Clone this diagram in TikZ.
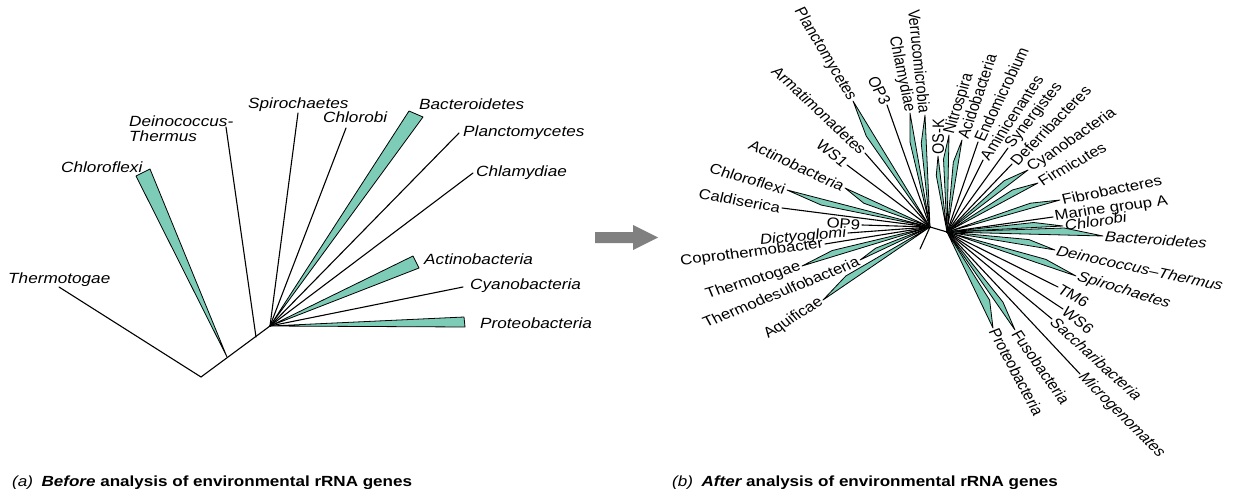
\documentclass[tikz,border=0pt]{standalone}
\usepackage{fontspec}
\setmainfont{Liberation Sans}
\usetikzlibrary{calc}
\definecolor{tealw}{RGB}{125,204,184}
\definecolor{arrowgray}{RGB}{128,128,128}
% plain branch: hub, name, tip, angle (as seen), anchor, text
\newcommand\br[6]{%
  \coordinate (t#2) at (#3);
  \draw[branch] (#1) -- (t#2);
  \node[lbl,xscale=1.16,rotate={atan(1.16*tan(#4))},anchor=#5] (#2) at (t#2) {#6};}
% wedge branch: hub, name, tip, angle (as seen), anchor, text, width
\newcommand\bw[7]{%
  \coordinate (t#2) at (#3);
  \path (#1) -- (t#2) coordinate[pos=0.75] (m#2);
  \filldraw[wedge] (#1) -- (t#2) -- ($(m#2)!#7pt!90:(t#2)$) -- cycle;
  \node[lbl,xscale=1.16,rotate={atan(1.16*tan(#4))},anchor=#5] (#2) at (t#2) {#6};}
\begin{document}
\begin{tikzpicture}[x=1pt,y=-1pt,
  branch/.style={line width=1.1pt,line cap=round},
  wedge/.style={fill=tealw,draw=black,line width=0.8pt,line join=round},
  lbl/.style={font=\fontsize{14.4}{17}\selectfont,inner sep=1.5pt},
  llbl/.style={font=\fontsize{14.8}{17}\selectfont\itshape,inner sep=0pt,anchor=base west,xscale=1.16},
  capt/.style={font=\fontsize{14.7}{17}\selectfont,inner sep=0pt,anchor=base west,xscale=1.16}]
\useasboundingbox (0,0) rectangle (1241,489);

% ---------------- left tree ----------------
\coordinate (R) at (201,377);
\coordinate (A) at (227,357);
\coordinate (B) at (256,337);
\coordinate (C) at (270,326);
\coordinate (aThe) at (59,287);
\coordinate (aChf1) at (136,176);
\coordinate (aChf2) at (150,169);
\coordinate (aDei) at (226,127);
\coordinate (aSpi) at (298,113);
\coordinate (aChb) at (346,128);
\coordinate (aBac1) at (409,111);
\coordinate (aBac2) at (423,117);
\coordinate (aPla) at (459,133);
\coordinate (aChl) at (473,173);
\coordinate (aAct1) at (413,256);
\coordinate (aAct2) at (419,268);
\coordinate (aCya) at (463,287);
\coordinate (aPro1) at (464,317);
\coordinate (aPro2) at (465,327);

\filldraw[wedge] (A) -- (aChf1) -- (aChf2) -- cycle;
\filldraw[wedge] (C) -- (aBac1) -- (aBac2) -- cycle;
\filldraw[wedge] (C) -- (aAct1) -- (aAct2) -- cycle;
\filldraw[wedge] (C) -- (aPro1) -- (aPro2) -- cycle;
\draw[branch] (aThe) -- (R) -- (C);
\draw[branch] (B) -- (aDei);
\draw[branch] (C) -- (aSpi);
\draw[branch] (C) -- (aChb);
\draw[branch] (C) -- (aPla);
\draw[branch] (C) -- (aChl);
\draw[branch] (C) -- (aCya);

\node[llbl] (nThe) at (8,283) {Thermotogae};
\node[llbl] (nChf) at (61,172) {Chloroflexi};
\node[llbl] (nDei) at (129,127) {Deinococcus-};
\node[llbl] (nThm) at (129,142) {Thermus};
\node[llbl] (nSpi) at (248,109) {Spirochaetes};
\node[llbl] (nChb) at (323,123) {Chlorobi};
\node[llbl] (nBac) at (419,110) {Bacteroidetes};
\node[llbl] (nPla) at (463,137) {Planctomycetes};
\node[llbl] (nChl) at (476,176) {Chlamydiae};
\node[llbl] (nAct) at (424,264) {Actinobacteria};
\node[llbl] (nCya) at (470,289) {Cyanobacteria};
\node[llbl] (nPro) at (480,328) {Proteobacteria};

% ---------------- arrow ----------------
\fill[arrowgray] (595,232) -- (633,232) -- (633,225) -- (658,237.5)
  -- (633,250) -- (633,243) -- (595,243) -- cycle;

% ---------------- right tree ----------------
\coordinate (L) at (930,227);
\coordinate (Rh) at (947,232);
\coordinate (S) at (920,249);
\draw[branch] (S) -- (L) -- (Rh);

\bw{L}{Aqu}{823,300}{32}{east}{Aquificae}{-7}
\bw{L}{Tds}{860,260}{22}{east}{Thermodesulfobacteria}{-4}
\bw{L}{Tto}{802,266}{17}{east}{Thermotogae}{-6}
\br{L}{Cop}{825,244}{7}{east}{Coprothermobacter}
\br{L}{Dic}{848,233}{5}{east}{\itshape Dictyoglomi}
\br{L}{OPn}{862,225}{-4}{east}{OP9}
\br{L}{Cal}{782,208}{-10}{east}{Caldiserica}
\bw{L}{Chf}{787,190}{-16}{east}{Chloroflexi}{6}
\bw{L}{Act}{845,188}{-25}{east}{Actinobacteria}{6}
\br{L}{WSo}{847,165}{-38}{east}{WS1}
\br{L}{Arm}{865,153}{-43}{east}{Armatimonadetes}
\bw{L}{Pla}{853,101}{-59}{east}{Planctomycetes}{7}
\br{L}{OPt}{887,105}{-62}{east}{OP3}
\bw{L}{Chl}{910,113}{-78}{east}{Chlamydiae}{5}
\bw{L}{Ver}{925,115}{-84}{east}{Verrucomicrobia}{5}

\bw{Rh}{OSK}{938,156}{89}{west}{OS-K}{4}
\bw{Rh}{Nit}{949,135}{72}{west}{Nitrospira}{5}
\bw{Rh}{Aci}{962,140}{71}{west}{Acidobacteria}{5}
\br{Rh}{End}{978,142}{64}{west}{Endomicrobium}
\br{Rh}{Ami}{983,160}{56}{west}{Aminicenantes}
\br{Rh}{Syn}{1008,148}{51}{west}{Synergistes}
\br{Rh}{Def}{1012,164}{45}{west}{Deferribacteres}
\bw{Rh}{Cya}{1028,170}{34}{west}{Cyanobacteria}{6}
\bw{Rh}{Fir}{1038,183}{29}{west}{Firmicutes}{6}
\bw{Rh}{Fib}{1060,200}{11}{west}{Fibrobacteres}{5}
\br{Rh}{Mar}{1053,217}{8}{west}{Marine group A}
\bw{Rh}{Chb}{1063,226}{8}{west}{\itshape Chlorobi}{5}
\bw{Rh}{Bac}{1103,236}{-4}{west}{\itshape Bacteroidetes}{7}
\bw{Rh}{Dei}{1055,250}{-12}{west}{\itshape Deinococcus–Thermus}{6}
\bw{Rh}{Spi}{1076,276}{-17}{west}{\itshape Spirochaetes}{6}
\br{Rh}{TMs}{1058,287}{-30}{west}{TM6}
\br{Rh}{WSs}{1063,309}{-38}{west}{WS6}
\br{Rh}{Sac}{1052,319}{-42}{west}{\itshape Saccharibacteria}
\br{Rh}{Mic}{1080,374}{-45}{west}{\itshape Microgenomates}
\bw{Rh}{Fus}{1015,330}{-55}{west}{Fusobacteria}{6}
\bw{Rh}{Pro}{993,328}{-62}{west}{Proteobacteria}{9}

% ---------------- captions ----------------
\node[capt] (capa) at (12,486) {{\itshape (a)}\hspace{0.5em}{\bfseries\itshape Before} {\bfseries analysis of environmental rRNA genes}};
\node[capt] (capb) at (672,486) {{\itshape (b)}\hspace{0.5em}{\bfseries\itshape After} {\bfseries analysis of environmental rRNA genes}};
\end{tikzpicture}
\end{document}
